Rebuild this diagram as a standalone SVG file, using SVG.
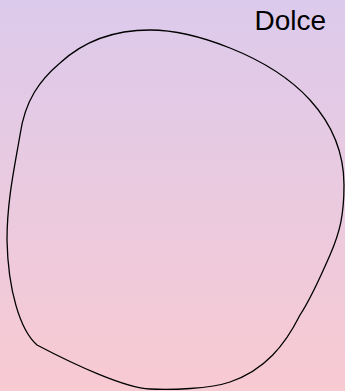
<svg xmlns="http://www.w3.org/2000/svg" width="345" height="391" viewBox="0 0 345 391">
<defs>
<linearGradient id="bg" x1="0" y1="0" x2="0" y2="1">
<stop offset="0" stop-color="#dccaec"/>
<stop offset="1" stop-color="#f8cad2"/>
</linearGradient>
<style>
.blob{fill:none;stroke:#000;stroke-width:1.3}
.title{font-family:"Liberation Sans",Arial,sans-serif;font-size:28px;fill:#000}
</style>
</defs>
<rect width="345" height="391" fill="url(#bg)"/>
<g id="blob">
<path class="blob" d="M150,30 C175,30 200,36 230,48 C260,60 290,78 310,100 C330,122 344,150 344,185 C344,215 340,232 330,255 C320,278 310,300 300,315 C285,345 265,370 230,382 C210,389 170,390 150,389 C125,388 75,365 37,345 C20,330 8,290 7,240 C7,200 15,165 20,135 C25,100 40,80 60,63 C85,40 115,30 150,30 Z"/>
</g>
<g id="label">
<text class="title" x="326" y="30" text-anchor="end">Dolce</text>
</g>
</svg>
